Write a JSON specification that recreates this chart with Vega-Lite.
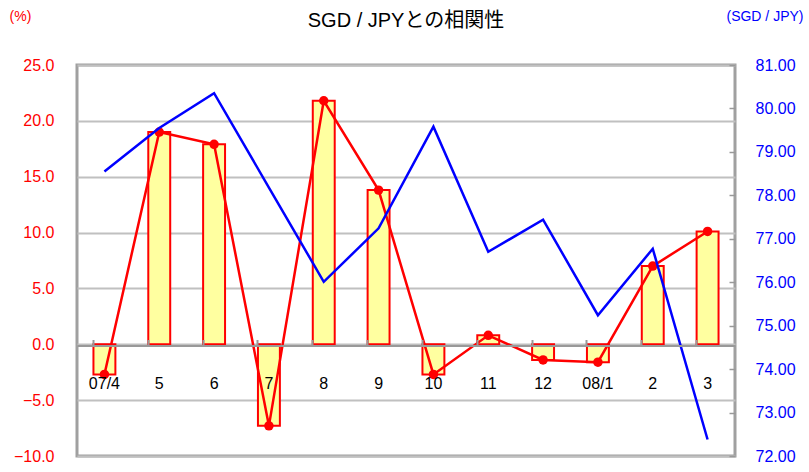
{
  "$schema": "https://vega.github.io/schema/vega-lite/v6.json",
  "autosize": {"type": "none"},
  "width": 658,
  "height": 391,
  "padding": {"left": 77, "top": 65, "right": 74, "bottom": 16},
  "background": "white",
  "config": {
    "font": "Liberation Sans",
    "view": {"stroke": "#A0A0A0", "strokeWidth": 3}
  },
  "title": {
    "text": "SGD / JPYとの相関性",
    "font": "Liberation Sans, Noto Sans CJK JP",
    "fontSize": 20,
    "fontWeight": "normal",
    "color": "#000000",
    "anchor": "middle",
    "offset": -22
  },
  "data": {
    "values": [
      {"month": "07/4", "pct": -2.7, "rate": 78.55},
      {"month": "5", "pct": 19.0, "rate": 79.55},
      {"month": "6", "pct": 17.9, "rate": 80.35},
      {"month": "7", "pct": -7.3, "rate": 78.18},
      {"month": "8", "pct": 21.8, "rate": 76.01},
      {"month": "9", "pct": 13.8, "rate": 77.24},
      {"month": "10", "pct": -2.7, "rate": 79.58},
      {"month": "11", "pct": 0.8, "rate": 76.7},
      {"month": "12", "pct": -1.4, "rate": 77.44},
      {"month": "08/1", "pct": -1.6, "rate": 75.24},
      {"month": "2", "pct": 7.0, "rate": 76.77},
      {"month": "3", "pct": 10.1, "rate": 72.38}
    ]
  },
  "encoding": {
    "x": {
      "field": "month",
      "type": "nominal",
      "sort": null,
      "scale": {"paddingInner": 0.6, "paddingOuter": 0.3},
      "axis": {
        "title": null,
        "orient": "bottom",
        "offset": -110.5,
        "zindex": 2,
        "labelAngle": 0,
        "labelFontSize": 16,
        "labelColor": "#000000",
        "labelPadding": 36,
        "domainColor": "#999999",
        "domainWidth": 2,
        "tickColor": "#999999",
        "tickWidth": 2,
        "tickSize": -6,
        "bandPosition": 0,
        "grid": false
      }
    }
  },
  "layer": [
    {
      "mark": {"type": "bar", "fill": "#FFFFA0", "stroke": "#FF0000", "strokeWidth": 2},
      "encoding": {
        "y": {
          "field": "pct",
          "type": "quantitative",
          "scale": {"domain": [-10, 25], "nice": false, "zero": false},
          "axis": {
            "title": "(%)",
            "titleAngle": 0,
            "titleX": -57,
            "titleY": -42,
            "titleColor": "#FF0000",
            "titleFontSize": 14,
            "titleFontWeight": "normal",
            "titleAlign": "center",
            "values": [-10, -5, 0, 5, 10, 15, 20, 25],
            "format": ".1f",
            "labelColor": "#FF0000",
            "labelFontSize": 16,
            "labelPadding": 23,
            "ticks": false,
            "domain": false,
            "grid": true,
            "gridColor": "#C0C0C0",
            "gridWidth": 2
          }
        }
      }
    },
    {
      "mark": {"type": "line", "color": "#FF0000", "strokeWidth": 2.5, "point": {"filled": true, "color": "#FF0000", "size": 90}},
      "encoding": {
        "y": {
          "field": "pct",
          "type": "quantitative",
          "scale": {"domain": [-10, 25], "nice": false, "zero": false},
          "axis": null
        }
      }
    },
    {
      "mark": {"type": "line", "color": "#0000FF", "strokeWidth": 2.5},
      "encoding": {
        "y": {
          "field": "rate",
          "type": "quantitative",
          "scale": {"domain": [72, 81], "nice": false, "zero": false},
          "axis": {
            "orient": "right",
            "title": "(SGD / JPY)",
            "titleAngle": 0,
            "titleX": 68,
            "titleY": -42,
            "titleColor": "#0000FF",
            "titleFontSize": 14,
            "titleFontWeight": "normal",
            "titleAlign": "right",
            "values": [72, 73, 74, 75, 76, 77, 78, 79, 80, 81],
            "format": ".2f",
            "labelColor": "#0000FF",
            "labelFontSize": 16,
            "labelPadding": 26,
            "tickColor": "#999999",
            "tickWidth": 1.5,
            "tickSize": -6,
            "domain": false,
            "grid": false
          }
        }
      }
    }
  ],
  "resolve": {"scale": {"y": "independent"}}
}
